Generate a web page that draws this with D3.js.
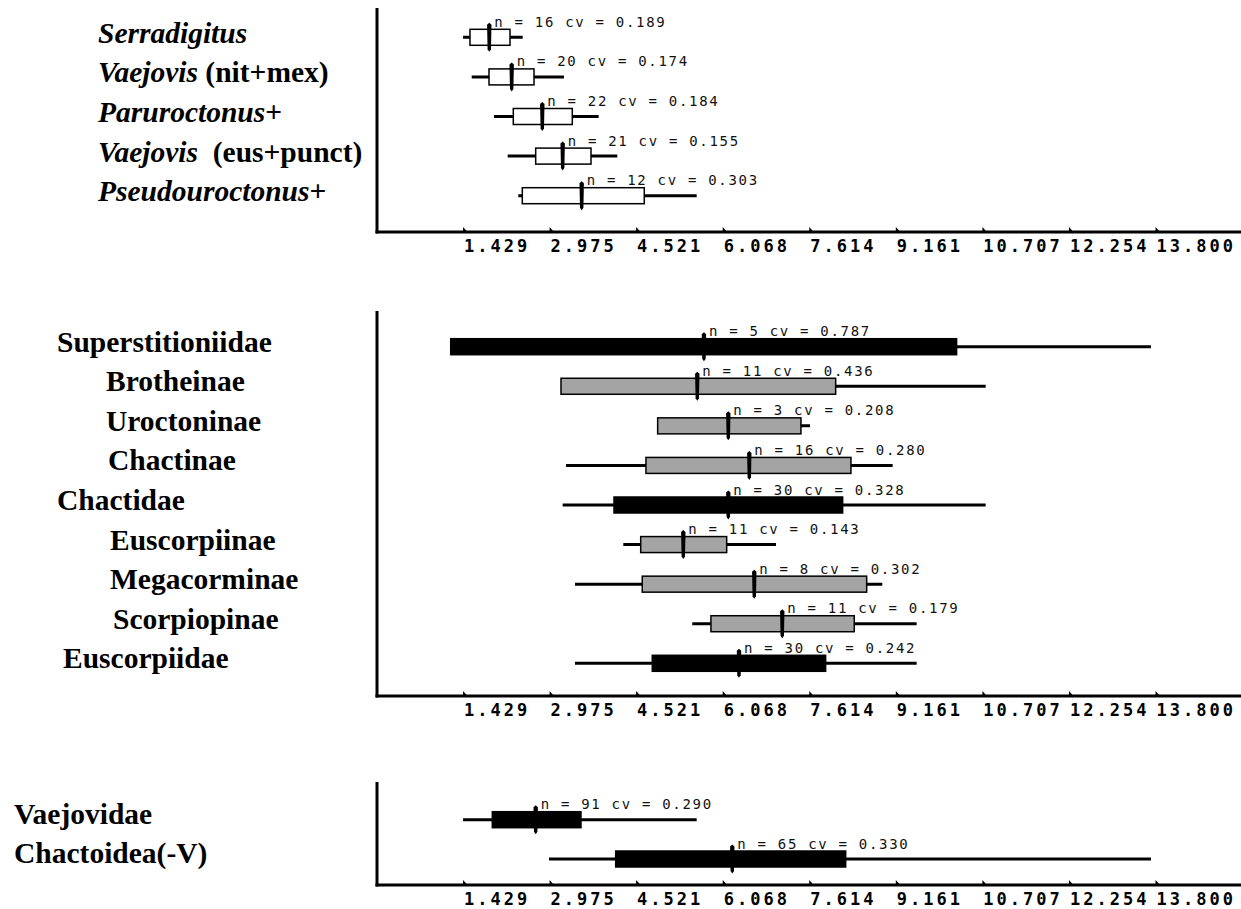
<!DOCTYPE html>
<html>
<head>
<meta charset="utf-8">
<script src="https://cdn.jsdelivr.net/npm/d3@7"></script>
<style>
  html, body { margin: 0; padding: 0; background: #fff; }
  svg { display: block; }
  .lab { font-family: "Liberation Serif", "Times New Roman", serif; font-weight: bold; font-size: 29.5px; fill: #000; white-space: pre; }
  .stat { font-family: "DejaVu Sans Mono", monospace; font-size: 14px; letter-spacing: 1.7px; fill: #111; }
  .xaxis text { font-family: "DejaVu Sans Mono", monospace; font-weight: bold; font-size: 17px; letter-spacing: 3px; fill: #000; }
</style>
</head>
<body>
<svg id="chart" width="1241" height="909"></svg>
<script>
// Axis ticks shared by all three panels
const tickValues = [1.429, 2.975, 4.521, 6.068, 7.614, 9.161, 10.707, 12.254, 13.800];
const axisDomain = [-0.117, 13.800];

// Panel 1: Vaejovid genera (italic genus names)
const genusNames = ["Serradigitus", "Vaejovis (nit+mex)", "Paruroctonus+", "Vaejovis  (eus+punct)", "Pseudouroctonus+"];
const genusN     = [16, 20, 22, 21, 12];
const genusCV    = [0.189, 0.174, 0.184, 0.155, 0.303];
const genusMin   = [1.42, 1.575, 1.973, 2.218, 2.407];
const genusLo    = [1.544, 1.884, 2.318, 2.718, 2.479];
const genusMean  = [1.889, 2.289, 2.836, 3.200, 3.540];
const genusHi    = [2.259, 2.688, 3.372, 3.706, 4.658];
const genusMax   = [2.486, 3.223, 3.843, 4.176, 5.594];
const genusFill  = ["open", "open", "open", "open", "open"];

// Panel 2: chactoid families and subfamilies
const taxonNames = ["Superstitioniidae", "Brotheinae", "Uroctoninae", "Chactinae", "Chactidae",
                    "Euscorpiinae", "Megacorminae", "Scorpiopinae", "Euscorpiidae"];
const taxonN     = [5, 11, 3, 16, 30, 11, 8, 11, 30];
const taxonCV    = [0.787, 0.436, 0.208, 0.280, 0.328, 0.143, 0.302, 0.179, 0.242];
const taxonMin   = [2.956, 3.25, 5.00, 3.259, 3.200, 4.283, 3.420, 5.515, 3.420];
const taxonLo    = [1.200, 3.170, 4.897, 4.688, 4.117, 4.594, 4.622, 5.849, 4.801];
const taxonMean  = [5.724, 5.605, 6.159, 6.534, 6.159, 5.355, 6.623, 7.123, 6.350];
const taxonHi    = [10.238, 8.077, 7.457, 8.350, 8.202, 6.130, 8.631, 8.409, 7.898];
const taxonMax   = [13.710, 10.757, 7.618, 9.095, 10.757, 7.011, 8.910, 9.524, 9.524];
const taxonFill  = ["black", "gray", "gray", "gray", "black", "gray", "gray", "gray", "black"];

// Panel 3: superfamily level
const groupNames = ["Vaejovidae", "Chactoidea(-V)"];
const groupN     = [91, 65];
const groupCV    = [0.290, 0.330];
const groupMin   = [1.42, 2.956];
const groupLo    = [1.943, 4.147];
const groupMean  = [2.718, 6.230];
const groupHi    = [3.527, 8.256];
const groupMax   = [5.594, 13.710];
const groupFill  = ["black", "black"];

function rowsOf(names, n, cv, min, lo, mean, hi, max, fill) {
  return names.map((name, i) => ({
    name, n: n[i], cv: cv[i], min: min[i], lo: lo[i], mean: mean[i], hi: hi[i], max: max[i], fill: fill[i]
  }));
}

const panels = [
  { rows: rowsOf(genusNames, genusN, genusCV, genusMin, genusLo, genusMean, genusHi, genusMax, genusFill),
    firstRow: 37.3, lastRow: 195.7, axisY: 232, axisTop: 8, labelDy: 5.5, italicGenus: true,
    labelX: [98, 98, 98, 98, 98] },
  { rows: rowsOf(taxonNames, taxonN, taxonCV, taxonMin, taxonLo, taxonMean, taxonHi, taxonMax, taxonFill),
    firstRow: 346.7, lastRow: 663.3, axisY: 696, axisTop: 311, labelDy: 5, italicGenus: false,
    labelX: [57, 106, 106, 108, 57, 110, 110, 113, 63] },
  { rows: rowsOf(groupNames, groupN, groupCV, groupMin, groupLo, groupMean, groupHi, groupMax, groupFill),
    firstRow: 819.7, lastRow: 859, axisY: 885, axisTop: 782, labelDy: 4, italicGenus: false,
    labelX: [14, 14] }
];

const fillColor = { open: "#ffffff", gray: "#a4a4a4", black: "#000000" };
const svg = d3.select("#chart");
const x = d3.scaleLinear().domain(axisDomain).range([377, 1156]);
const fmt3 = d3.format(".3f");
const boxHalf = 8;

panels.forEach(p => {
  const g = svg.append("g");
  const y = d3.scalePoint().domain(p.rows.map(d => d.name)).range([p.firstRow, p.lastRow]);

  // frame: left edge and bottom axis line
  g.append("line").attr("x1", x(axisDomain[0])).attr("x2", x(axisDomain[0]))
    .attr("y1", p.axisTop).attr("y2", p.axisY + 1.5)
    .attr("stroke", "#000").attr("stroke-width", 3);
  g.append("line").attr("x1", x(axisDomain[0]) - 1.5).attr("x2", 1241)
    .attr("y1", p.axisY).attr("y2", p.axisY)
    .attr("stroke", "#000").attr("stroke-width", 3);

  // tick labels
  const axis = d3.axisBottom(x).tickValues(tickValues).tickFormat(fmt3)
    .tickSizeInner(0).tickSizeOuter(0).tickPadding(8);
  const ag = g.append("g").attr("class", "xaxis").attr("transform", `translate(0,${p.axisY})`).call(axis);
  ag.select(".domain").remove();
  ag.selectAll(".tick line").remove();
  ag.selectAll(".tick text").attr("text-anchor", "start").attr("x", 0);

  // small wedge-shaped tick marks sitting on the axis
  g.selectAll("path.tk").data(tickValues).join("path").attr("class", "tk")
    .attr("d", d => `M${x(d) - 0.5},${p.axisY} L${x(d) - 0.5},${p.axisY - 5} L${x(d) + 4},${p.axisY} Z`)
    .attr("fill", "#000");

  // row labels
  const lab = g.selectAll("text.lab").data(p.rows).join("text").attr("class", "lab")
    .attr("xml:space", "preserve")
    .attr("x", (d, i) => p.labelX[i]).attr("y", d => y(d.name) + p.labelDy);
  if (p.italicGenus) {
    lab.each(function (d) {
      const m = d.name.match(/^([A-Za-z]+)(.*)$/);
      const t = d3.select(this);
      t.append("tspan").attr("font-style", "italic").text(m[1]);
      if (m[2]) t.append("tspan").attr("font-style", "normal").text(m[2]);
    });
  } else {
    lab.text(d => d.name);
  }

  const row = g.selectAll("g.row").data(p.rows).join("g").attr("class", "row");

  // range whisker
  row.append("line")
    .attr("x1", d => x(d.min)).attr("x2", d => x(d.max))
    .attr("y1", d => y(d.name)).attr("y2", d => y(d.name))
    .attr("stroke", "#000").attr("stroke-width", 3);

  // mean ± SD box
  row.append("rect")
    .attr("x", d => x(d.lo)).attr("width", d => x(d.hi) - x(d.lo))
    .attr("y", d => y(d.name) - boxHalf).attr("height", boxHalf * 2)
    .attr("fill", d => fillColor[d.fill]).attr("stroke", "#000").attr("stroke-width", 1.5);

  // mean marker: thin spindle crossing the box, with a knob at the top
  row.append("path")
    .attr("d", d => {
      const cx = x(d.mean), cy = y(d.name), t = cy - 14.5, b = cy + 14.5;
      return `M${cx},${t} L${cx + 2.2},${t + 2} L${cx + 1.7},${b - 2.5} L${cx},${b} L${cx - 1.7},${b - 2.5} L${cx - 2.2},${t + 2} Z`;
    })
    .attr("fill", "#000");

  // sample size and coefficient of variation
  row.append("text").attr("class", "stat")
    .attr("x", d => x(d.mean) + 5).attr("y", d => y(d.name) - boxHalf - 2.5)
    .text(d => `n = ${d.n} cv = ${fmt3(d.cv)}`);
});
</script>
</body>
</html>
